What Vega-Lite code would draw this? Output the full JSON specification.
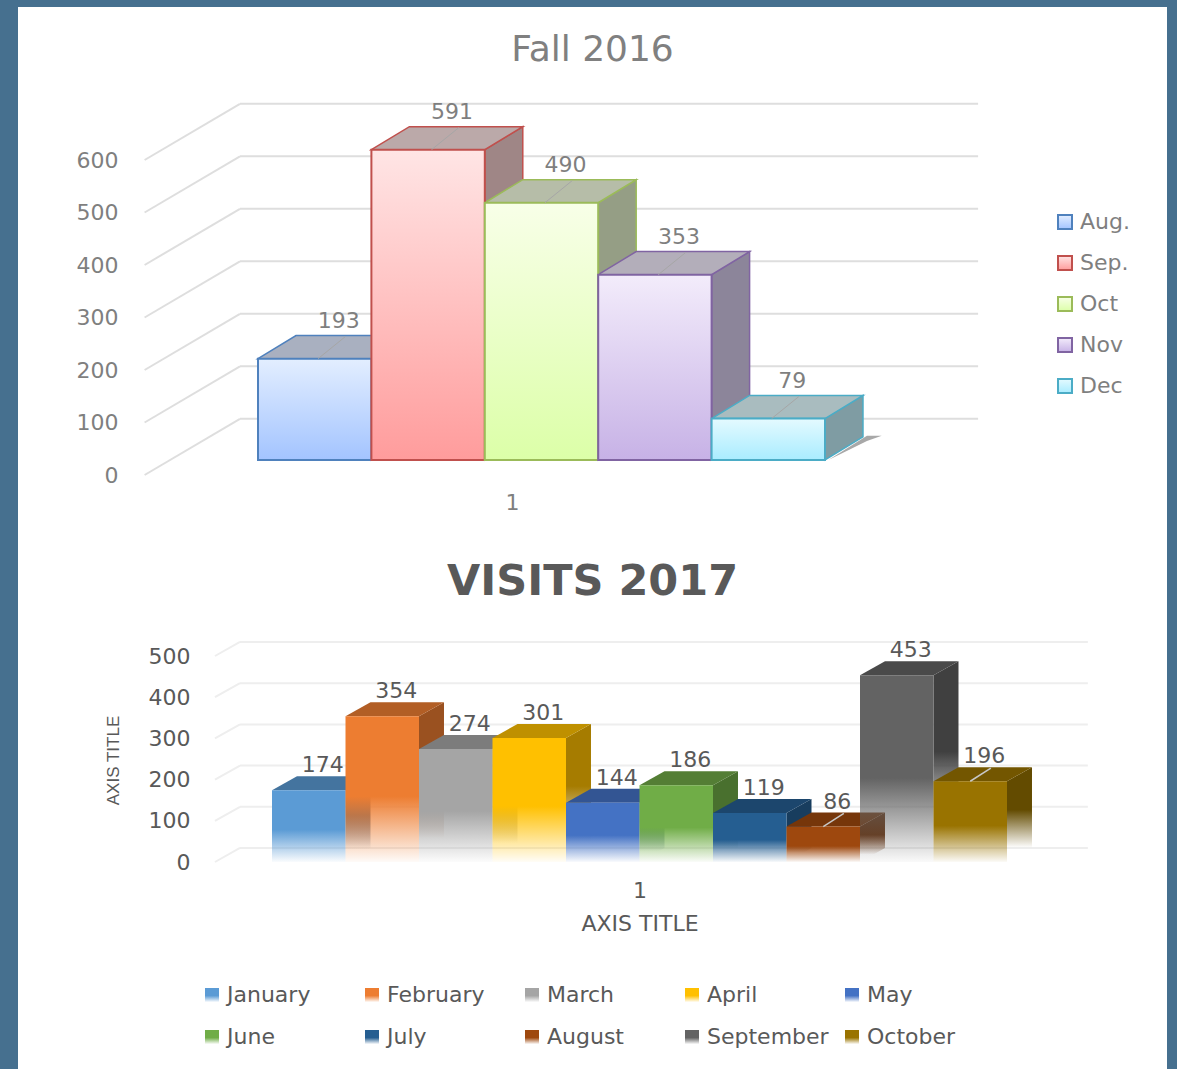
{
"$schema":"https://vega.github.io/schema/vega-lite/v6.json",
"background":"#46708f",
"padding":{"left":18,"top":7,"right":10,"bottom":0},
"spacing":0,
"config":{"concat":{"spacing":0},"font":"DejaVu Sans"},
"datasets":{
"fall":[{"month":"Aug.","value":193,"idx":0},{"month":"Sep.","value":591,"idx":1},{"month":"Oct","value":490,"idx":2},{"month":"Nov","value":353,"idx":3},{"month":"Dec","value":79,"idx":4}],
"visits":[{"month":"January","value":174,"idx":0},{"month":"February","value":354,"idx":1},{"month":"March","value":274,"idx":2},{"month":"April","value":301,"idx":3},{"month":"May","value":144,"idx":4},{"month":"June","value":186,"idx":5},{"month":"July","value":119,"idx":6},{"month":"August","value":86,"idx":7},{"month":"September","value":453,"idx":8},{"month":"October","value":196,"idx":9}],
"t1":[{"tick":0},{"tick":100},{"tick":200},{"tick":300},{"tick":400},{"tick":500},{"tick":600}],
"t2":[{"tick":0},{"tick":100},{"tick":200},{"tick":300},{"tick":400},{"tick":500}]
},
"vconcat":[
{
"width":1149,"height":528,
"view":{"fill":"white","stroke":null},
"title":{"text":"Fall 2016","fontSize":36,"fontWeight":"normal","color":"#808080","font":"DejaVu Sans","offset":-62,"anchor":"middle"},
"resolve":{"scale":{"fill":"independent","stroke":"independent"},"axis":{"x":"independent","y":"independent"}},
"layer":[
{"data":{"name":"t1"},"transform":[{"calculate":"datum.tick+107","as":"wall"}],"mark":{"type":"rule","color":"#dedede","strokeWidth":2},
"encoding":{
"x":{"datum":-0.159,"type":"quantitative","scale":{"domain":[0,5],"range":[240,807]},"axis":{"values":[2.24],"labelExpr":"'1'","title":null,"orient":"bottom","offset":-43,"domain":false,"ticks":false,"grid":false,"labelFontSize":22,"labelColor":"#7f7f7f","labelPadding":0}},
"x2":{"datum":6.35},
"y":{"field":"wall","type":"quantitative","scale":{"domain":[0,600],"range":[468,153]},"axis":{"values":[0,100,200,300,400,500,600],"title":null,"offset":-100,"domain":false,"ticks":false,"grid":false,"labelFontSize":22,"labelColor":"#7f7f7f","labelPadding":0}}
}},
{"data":{"name":"t1"},"transform":[{"calculate":"datum.tick+107","as":"wall"}],"mark":{"type":"rule","color":"#dedede","strokeWidth":2},
"encoding":{
"x":{"datum":-1.0,"type":"quantitative","axis":null},
"x2":{"datum":-0.159},
"y":{"field":"tick","type":"quantitative","axis":null},
"y2":{"field":"wall"}
}},
{"data":{"name":"fall"},"transform":[{"filter":"datum.idx==4"},{"calculate":"[0,1,2]","as":"k"},{"flatten":["k"]},{"calculate":"datum.k==0?5.03:datum.k==1?5.37:5.5","as":"px"},{"calculate":"datum.k==0?0:46","as":"top"},{"calculate":"datum.k==0?0:datum.k==1?36:46","as":"bot"}],
"mark":{"type":"area","orient":"vertical","color":"#6e6e6e","opacity":0.6,"yOffset":-15,"y2Offset":-15},
"encoding":{"x":{"field":"px","type":"quantitative","axis":null},"y":{"field":"top","type":"quantitative","axis":null,"stack":null},"y2":{"field":"bot"}}},
{"data":{"name":"fall"},"transform":[{"calculate":"[0,1]","as":"k"},{"flatten":["k"]},{"calculate":"datum.idx+1+datum.k*0.335","as":"px"},{"calculate":"datum.value+datum.k*44","as":"top"},{"calculate":"datum.k*44","as":"bot"}],
"mark":{"type":"area","orient":"vertical","strokeWidth":1.5,"yOffset":-15,"y2Offset":-15},
"encoding":{"x":{"field":"px","type":"quantitative","axis":null},"y":{"field":"top","type":"quantitative","axis":null,"stack":null},"y2":{"field":"bot"},
"fill":{"field":"month","type":"nominal","legend":null,"scale":{"domain":["Aug.","Sep.","Oct","Nov","Dec"],"range":["#8d94a6","#9f8686","#959e85","#8c859a","#7f9ca3"]}},
"stroke":{"field":"month","type":"nominal","legend":null,"scale":{"domain":["Aug.","Sep.","Oct","Nov","Dec"],"range":["#4f81bd","#c0504d","#9bbb59","#8064a2","#4bacc6"]}}}},
{"data":{"name":"fall"},"transform":[{"calculate":"[0,1,2,3]","as":"k"},{"flatten":["k"]},{"calculate":"datum.idx+(datum.k==0?0:datum.k==1?0.335:datum.k==2?1:1.335)","as":"px"},{"calculate":"datum.value+(datum.k>0?44:0)","as":"top"},{"calculate":"datum.value+(datum.k==3?44:0)","as":"bot"}],
"mark":{"type":"area","orient":"vertical","strokeWidth":1.5,"yOffset":-15,"y2Offset":-15},
"encoding":{"x":{"field":"px","type":"quantitative","axis":null},"y":{"field":"top","type":"quantitative","axis":null,"stack":null},"y2":{"field":"bot"},
"fill":{"field":"month","type":"nominal","legend":null,"scale":{"domain":["Aug.","Sep.","Oct","Nov","Dec"],"range":["#a9b0c0","#bba9a9","#b6bda8","#b3aeba","#a9bcbf"]}},
"stroke":{"field":"month","type":"nominal","legend":null,"scale":{"domain":["Aug.","Sep.","Oct","Nov","Dec"],"range":["#4f81bd","#c0504d","#9bbb59","#8064a2","#4bacc6"]}}}},
{"data":{"name":"fall"},"transform":[{"calculate":"datum.idx+1","as":"next"}],
"mark":{"type":"rect","strokeWidth":2,"yOffset":-15,"y2Offset":-15},
"encoding":{"x":{"field":"idx","type":"quantitative","axis":null},"x2":{"field":"next"},"y":{"field":"value","type":"quantitative","axis":null},"y2":{"datum":0},
"fill":{"field":"month","type":"nominal","title":null,"scale":{"domain":["Aug.","Sep.","Oct","Nov","Dec"],"range":[
{"expr":"{gradient:'linear',x1:0,y1:0,x2:0,y2:1,stops:[{offset:0,color:'#e3eeff'},{offset:1,color:'#a3c4ff'}]}"},
{"expr":"{gradient:'linear',x1:0,y1:0,x2:0,y2:1,stops:[{offset:0,color:'#ffe5e5'},{offset:1,color:'#ff9c9c'}]}"},
{"expr":"{gradient:'linear',x1:0,y1:0,x2:0,y2:1,stops:[{offset:0,color:'#f8ffe8'},{offset:1,color:'#dcffa8'}]}"},
{"expr":"{gradient:'linear',x1:0,y1:0,x2:0,y2:1,stops:[{offset:0,color:'#f3ecfb'},{offset:1,color:'#c7b2e6'}]}"},
{"expr":"{gradient:'linear',x1:0,y1:0,x2:0,y2:1,stops:[{offset:0,color:'#e4faff'},{offset:1,color:'#a9ecff'}]}"}
]},
"legend":{"orient":"none","legendX":1036,"legendY":204,"title":null,"symbolType":"square","symbolSize":196,"symbolStrokeWidth":2,"labelFontSize":22,"labelColor":"#7f7f7f","labelFont":"DejaVu Sans","rowPadding":19,"labelOffset":4}},
"stroke":{"field":"month","type":"nominal","title":null,"scale":{"domain":["Aug.","Sep.","Oct","Nov","Dec"],"range":["#4f81bd","#c0504d","#9bbb59","#8064a2","#4bacc6"]}}}},
{"data":{"name":"fall"},"transform":[{"calculate":"datum.idx+0.53","as":"a"},{"calculate":"datum.idx+0.77","as":"b"},{"calculate":"datum.value+42","as":"top"}],
"mark":{"type":"rule","color":"#a6a6a6","strokeWidth":1,"yOffset":-15,"y2Offset":-15},
"encoding":{"x":{"field":"a","type":"quantitative","axis":null},"x2":{"field":"b"},"y":{"field":"value","type":"quantitative","axis":null},"y2":{"field":"top"}}},
{"data":{"name":"fall"},"transform":[{"calculate":"datum.idx+0.5","as":"c"}],
"mark":{"type":"text","fontSize":22,"color":"#7f7f7f","dx":24,"dy":-53,"baseline":"middle"},
"encoding":{"x":{"field":"c","type":"quantitative","axis":null},"y":{"field":"value","type":"quantitative","axis":null},"text":{"field":"value","type":"quantitative"}}}
]},
{
"width":1149,"height":534,
"view":{"fill":"white","stroke":null},
"title":{"text":"VISITS 2017","fontSize":43,"fontWeight":"bold","color":"#595959","font":"DejaVu Sans","offset":-69,"anchor":"middle"},
"resolve":{"scale":{"fill":"independent"},"axis":{"x":"independent","y":"independent"}},
"layer":[
{"data":{"name":"t2"},"transform":[{"calculate":"datum.tick+34","as":"wall"}],"mark":{"type":"rule","color":"#eeeeee","strokeWidth":2},
"encoding":{
"x":{"datum":-0.435,"type":"quantitative","scale":{"domain":[0,10],"range":[254,989]},"axis":{"values":[5],"labelExpr":"'1'","title":"AXIS TITLE","titleFontSize":22,"titleFontWeight":"normal","titleColor":"#595959","titleFont":"DejaVu Sans","titlePadding":12,"orient":"bottom","offset":-189,"domain":false,"ticks":false,"grid":false,"labelFontSize":22,"labelColor":"#595959","labelPadding":0}},
"x2":{"datum":11.1},
"y":{"field":"wall","type":"quantitative","scale":{"domain":[0,500],"range":[327,121]},"axis":{"values":[0,100,200,300,400,500],"title":"AXIS TITLE","titleFontSize":17,"titleFontWeight":"normal","titleColor":"#595959","titleFont":"Liberation Sans","titleX":-68,"titleY":225,"offset":-172,"domain":false,"ticks":false,"grid":false,"labelFontSize":22,"labelColor":"#595959","labelPadding":0}}
}},
{"data":{"name":"t2"},"transform":[{"calculate":"datum.tick+34","as":"wall"}],"mark":{"type":"rule","color":"#eeeeee","strokeWidth":2},
"encoding":{
"x":{"datum":-0.776,"type":"quantitative","axis":null},
"x2":{"datum":-0.435},
"y":{"field":"tick","type":"quantitative","axis":null},
"y2":{"field":"wall"}
}},
{"data":{"name":"visits"},"transform":[{"calculate":"[0,1]","as":"k"},{"flatten":["k"]},{"calculate":"datum.idx+1+datum.k*0.34","as":"px"},{"calculate":"datum.value+datum.k*34","as":"top"},{"calculate":"datum.k*34","as":"bot"}],
"mark":{"type":"area","orient":"vertical"},
"encoding":{"x":{"field":"px","type":"quantitative","axis":null},"y":{"field":"top","type":"quantitative","axis":null,"stack":null},"y2":{"field":"bot"},
"fill":{"field":"month","type":"nominal","legend":null,"scale":{"domain":["January","February","March","April","May","June","July","August","September","October"],"range":[
{"expr":"{gradient:'linear',x1:0,y1:0,x2:0,y2:1,stops:[{offset:0,color:'#3b648a'},{offset:0.45,color:'#3b648a'},{offset:0.85,color:'rgba(59,100,138,0)'}]}"},
{"expr":"{gradient:'linear',x1:0,y1:0,x2:0,y2:1,stops:[{offset:0,color:'#9a5120'},{offset:0.45,color:'#9a5120'},{offset:0.85,color:'rgba(154,81,32,0)'}]}"},
{"expr":"{gradient:'linear',x1:0,y1:0,x2:0,y2:1,stops:[{offset:0,color:'#6b6b6b'},{offset:0.45,color:'#6b6b6b'},{offset:0.85,color:'rgba(107,107,107,0)'}]}"},
{"expr":"{gradient:'linear',x1:0,y1:0,x2:0,y2:1,stops:[{offset:0,color:'#a67c00'},{offset:0.45,color:'#a67c00'},{offset:0.85,color:'rgba(166,124,0,0)'}]}"},
{"expr":"{gradient:'linear',x1:0,y1:0,x2:0,y2:1,stops:[{offset:0,color:'#2c4a7f'},{offset:0.45,color:'#2c4a7f'},{offset:0.85,color:'rgba(44,74,127,0)'}]}"},
{"expr":"{gradient:'linear',x1:0,y1:0,x2:0,y2:1,stops:[{offset:0,color:'#49702e'},{offset:0.45,color:'#49702e'},{offset:0.85,color:'rgba(73,112,46,0)'}]}"},
{"expr":"{gradient:'linear',x1:0,y1:0,x2:0,y2:1,stops:[{offset:0,color:'#183d5e'},{offset:0.45,color:'#183d5e'},{offset:0.85,color:'rgba(24,61,94,0)'}]}"},
{"expr":"{gradient:'linear',x1:0,y1:0,x2:0,y2:1,stops:[{offset:0,color:'#672f09'},{offset:0.45,color:'#672f09'},{offset:0.85,color:'rgba(103,47,9,0)'}]}"},
{"expr":"{gradient:'linear',x1:0,y1:0,x2:0,y2:1,stops:[{offset:0,color:'#404040'},{offset:0.45,color:'#404040'},{offset:0.85,color:'rgba(64,64,64,0)'}]}"},
{"expr":"{gradient:'linear',x1:0,y1:0,x2:0,y2:1,stops:[{offset:0,color:'#634b00'},{offset:0.45,color:'#634b00'},{offset:0.85,color:'rgba(99,75,0,0)'}]}"}
]}}}},
{"data":{"name":"visits"},"transform":[{"calculate":"[0,1,2,3]","as":"k"},{"flatten":["k"]},{"calculate":"datum.idx+(datum.k==0?0:datum.k==1?0.34:datum.k==2?1:1.34)","as":"px"},{"calculate":"datum.value+(datum.k>0?34:0)","as":"top"},{"calculate":"datum.value+(datum.k==3?34:0)","as":"bot"}],
"mark":{"type":"area","orient":"vertical"},
"encoding":{"x":{"field":"px","type":"quantitative","axis":null},"y":{"field":"top","type":"quantitative","axis":null,"stack":null},"y2":{"field":"bot"},
"fill":{"field":"month","type":"nominal","legend":null,"scale":{"domain":["January","February","March","April","May","June","July","August","September","October"],"range":["#44749f","#b25e25","#7c7c7c","#bf9000","#335593","#547e35","#1c466d","#76360a","#4a4a4a","#735600"]}}}},
{"data":{"name":"visits"},"transform":[{"calculate":"datum.idx+1","as":"next"}],
"mark":{"type":"rect"},
"encoding":{"x":{"field":"idx","type":"quantitative","axis":null},"x2":{"field":"next"},"y":{"field":"value","type":"quantitative","axis":null},"y2":{"datum":0},
"fill":{"field":"month","type":"nominal","title":null,"scale":{"domain":["January","February","March","April","May","June","July","August","September","October"],"range":[
{"expr":"{gradient:'linear',x1:0,y1:0,x2:0,y2:1,stops:[{offset:0,color:'#5b9bd5'},{offset:0.55,color:'#5b9bd5'},{offset:1,color:'rgba(91,155,213,0.03)'}]}"},
{"expr":"{gradient:'linear',x1:0,y1:0,x2:0,y2:1,stops:[{offset:0,color:'#ed7d31'},{offset:0.55,color:'#ed7d31'},{offset:1,color:'rgba(237,125,49,0.03)'}]}"},
{"expr":"{gradient:'linear',x1:0,y1:0,x2:0,y2:1,stops:[{offset:0,color:'#a5a5a5'},{offset:0.55,color:'#a5a5a5'},{offset:1,color:'rgba(165,165,165,0.03)'}]}"},
{"expr":"{gradient:'linear',x1:0,y1:0,x2:0,y2:1,stops:[{offset:0,color:'#ffc000'},{offset:0.55,color:'#ffc000'},{offset:1,color:'rgba(255,192,0,0.03)'}]}"},
{"expr":"{gradient:'linear',x1:0,y1:0,x2:0,y2:1,stops:[{offset:0,color:'#4472c4'},{offset:0.55,color:'#4472c4'},{offset:1,color:'rgba(68,114,196,0.03)'}]}"},
{"expr":"{gradient:'linear',x1:0,y1:0,x2:0,y2:1,stops:[{offset:0,color:'#70ad47'},{offset:0.55,color:'#70ad47'},{offset:1,color:'rgba(112,173,71,0.03)'}]}"},
{"expr":"{gradient:'linear',x1:0,y1:0,x2:0,y2:1,stops:[{offset:0,color:'#255e91'},{offset:0.55,color:'#255e91'},{offset:1,color:'rgba(37,94,145,0.03)'}]}"},
{"expr":"{gradient:'linear',x1:0,y1:0,x2:0,y2:1,stops:[{offset:0,color:'#9e480e'},{offset:0.55,color:'#9e480e'},{offset:1,color:'rgba(158,72,14,0.03)'}]}"},
{"expr":"{gradient:'linear',x1:0,y1:0,x2:0,y2:1,stops:[{offset:0,color:'#636363'},{offset:0.55,color:'#636363'},{offset:1,color:'rgba(99,99,99,0.03)'}]}"},
{"expr":"{gradient:'linear',x1:0,y1:0,x2:0,y2:1,stops:[{offset:0,color:'#997300'},{offset:0.55,color:'#997300'},{offset:1,color:'rgba(153,115,0,0.03)'}]}"}
]},
"legend":{"orient":"none","direction":"horizontal","legendX":183,"legendY":449,"title":null,"columns":5,"gridAlign":"all","columnPadding":12,"rowPadding":20,"symbolType":"square","symbolSize":196,"symbolStrokeWidth":0,"labelFontSize":22,"labelColor":"#595959","labelFont":"DejaVu Sans","labelOffset":4}}}},
{"data":{"name":"visits"},"transform":[{"filter":"datum.month=='August'||datum.month=='October'"},{"calculate":"datum.idx+0.5","as":"a"},{"calculate":"datum.idx+0.78","as":"b"},{"calculate":"datum.value+32","as":"top"}],
"mark":{"type":"rule","color":"#c8c8c8","strokeWidth":1.5},
"encoding":{"x":{"field":"a","type":"quantitative","axis":null},"x2":{"field":"b"},"y":{"field":"value","type":"quantitative","axis":null},"y2":{"field":"top"}}},
{"data":{"name":"visits"},"transform":[{"calculate":"datum.idx+0.5","as":"c"}],
"mark":{"type":"text","fontSize":22,"color":"#595959","dx":14,"dy":-25,"baseline":"middle"},
"encoding":{"x":{"field":"c","type":"quantitative","axis":null},"y":{"field":"value","type":"quantitative","axis":null},"text":{"field":"value","type":"quantitative"}}}
]}
]
}
